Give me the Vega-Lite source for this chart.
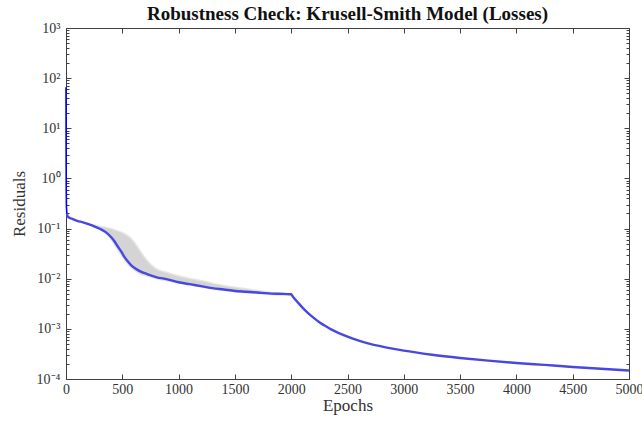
{
  "$schema": "https://vega.github.io/schema/vega-lite/v6.json",
  "width": 563,
  "height": 351,
  "autosize": "none",
  "padding": {"left": 66, "top": 28, "right": 13, "bottom": 42},
  "background": "white",
  "title": {
    "text": "Robustness Check: Krusell-Smith Model (Losses)",
    "font": "Liberation Serif",
    "fontSize": 19,
    "fontWeight": "bold",
    "color": "#111111",
    "offset": 6,
    "dy": 9
  },
  "config": {
    "view": {"stroke": null},
    "font": "Liberation Serif",
    "axis": {
      "grid": false,
      "domainColor": "#404040",
      "domainWidth": 1,
      "tickColor": "#404040",
      "tickWidth": 1,
      "labelFont": "Liberation Serif",
      "labelFontSize": 14,
      "labelColor": "#333333",
      "titleFont": "Liberation Serif",
      "titleFontSize": 17,
      "titleFontWeight": "normal",
      "titleColor": "#333333"
    }
  },
  "datasets": {
    "band": [
      {"epoch": 150, "lo": 0.132, "hi": 0.134, "lo_o": 0.130, "hi_o": 0.137},
      {"epoch": 200, "lo": 0.121, "hi": 0.124, "lo_o": 0.118, "hi_o": 0.128},
      {"epoch": 250, "lo": 0.110, "hi": 0.117, "lo_o": 0.106, "hi_o": 0.122},
      {"epoch": 300, "lo": 0.097, "hi": 0.109, "lo_o": 0.093, "hi_o": 0.115},
      {"epoch": 350, "lo": 0.081, "hi": 0.104, "lo_o": 0.077, "hi_o": 0.110},
      {"epoch": 400, "lo": 0.062, "hi": 0.097, "lo_o": 0.058, "hi_o": 0.103},
      {"epoch": 450, "lo": 0.041, "hi": 0.089, "lo_o": 0.038, "hi_o": 0.095},
      {"epoch": 500, "lo": 0.028, "hi": 0.080, "lo_o": 0.026, "hi_o": 0.086},
      {"epoch": 550, "lo": 0.020, "hi": 0.069, "lo_o": 0.0185, "hi_o": 0.075},
      {"epoch": 600, "lo": 0.0155, "hi": 0.053, "lo_o": 0.0145, "hi_o": 0.059},
      {"epoch": 650, "lo": 0.0132, "hi": 0.036, "lo_o": 0.0123, "hi_o": 0.041},
      {"epoch": 700, "lo": 0.0120, "hi": 0.025, "lo_o": 0.0112, "hi_o": 0.028},
      {"epoch": 750, "lo": 0.0112, "hi": 0.0185, "lo_o": 0.0105, "hi_o": 0.0205},
      {"epoch": 800, "lo": 0.0104, "hi": 0.0152, "lo_o": 0.0098, "hi_o": 0.0166},
      {"epoch": 900, "lo": 0.0093, "hi": 0.0128, "lo_o": 0.0088, "hi_o": 0.0138},
      {"epoch": 1000, "lo": 0.0084, "hi": 0.0110, "lo_o": 0.0079, "hi_o": 0.0118},
      {"epoch": 1100, "lo": 0.0077, "hi": 0.0098, "lo_o": 0.0073, "hi_o": 0.0105},
      {"epoch": 1200, "lo": 0.0070, "hi": 0.0089, "lo_o": 0.0066, "hi_o": 0.0095},
      {"epoch": 1300, "lo": 0.0064, "hi": 0.0079, "lo_o": 0.0061, "hi_o": 0.0084},
      {"epoch": 1400, "lo": 0.0060, "hi": 0.0071, "lo_o": 0.0057, "hi_o": 0.0076},
      {"epoch": 1500, "lo": 0.0056, "hi": 0.0066, "lo_o": 0.0054, "hi_o": 0.0070},
      {"epoch": 1600, "lo": 0.0053, "hi": 0.0061, "lo_o": 0.0051, "hi_o": 0.0065},
      {"epoch": 1700, "lo": 0.0051, "hi": 0.0057, "lo_o": 0.0049, "hi_o": 0.0060},
      {"epoch": 1800, "lo": 0.0049, "hi": 0.0053, "lo_o": 0.0047, "hi_o": 0.0056},
      {"epoch": 1900, "lo": 0.0048, "hi": 0.0050, "lo_o": 0.0046, "hi_o": 0.0052},
      {"epoch": 2000, "lo": 0.0047, "hi": 0.0049, "lo_o": 0.0045, "hi_o": 0.0050}
    ],
    "spike": [
      {"epoch": 0, "loss": 66},
      {"epoch": 1, "loss": 3},
      {"epoch": 2, "loss": 0.6},
      {"epoch": 4, "loss": 0.26},
      {"epoch": 8, "loss": 0.2}
    ],
    "mean": [
      {"epoch": 8, "loss": 0.2},
      {"epoch": 15, "loss": 0.176},
      {"epoch": 30, "loss": 0.165},
      {"epoch": 60, "loss": 0.155},
      {"epoch": 100, "loss": 0.143},
      {"epoch": 150, "loss": 0.133},
      {"epoch": 200, "loss": 0.122},
      {"epoch": 250, "loss": 0.111},
      {"epoch": 300, "loss": 0.099},
      {"epoch": 350, "loss": 0.086},
      {"epoch": 400, "loss": 0.068},
      {"epoch": 430, "loss": 0.056},
      {"epoch": 460, "loss": 0.044},
      {"epoch": 490, "loss": 0.035},
      {"epoch": 520, "loss": 0.027},
      {"epoch": 550, "loss": 0.022},
      {"epoch": 580, "loss": 0.0185},
      {"epoch": 620, "loss": 0.0158},
      {"epoch": 660, "loss": 0.014},
      {"epoch": 720, "loss": 0.0124},
      {"epoch": 800, "loss": 0.0108},
      {"epoch": 900, "loss": 0.0097},
      {"epoch": 1000, "loss": 0.0085},
      {"epoch": 1100, "loss": 0.0078},
      {"epoch": 1200, "loss": 0.0071},
      {"epoch": 1300, "loss": 0.0065},
      {"epoch": 1400, "loss": 0.0061},
      {"epoch": 1500, "loss": 0.0057},
      {"epoch": 1600, "loss": 0.0055},
      {"epoch": 1700, "loss": 0.0053},
      {"epoch": 1800, "loss": 0.0051},
      {"epoch": 1900, "loss": 0.0050},
      {"epoch": 2000, "loss": 0.0049},
      {"epoch": 2010, "loss": 0.00457},
      {"epoch": 2025, "loss": 0.00412},
      {"epoch": 2050, "loss": 0.00355},
      {"epoch": 2100, "loss": 0.00266},
      {"epoch": 2150, "loss": 0.00207},
      {"epoch": 2200, "loss": 0.00166},
      {"epoch": 2250, "loss": 0.00136},
      {"epoch": 2300, "loss": 0.00115},
      {"epoch": 2350, "loss": 0.00099},
      {"epoch": 2400, "loss": 0.00087},
      {"epoch": 2450, "loss": 0.000776},
      {"epoch": 2500, "loss": 0.00070},
      {"epoch": 2600, "loss": 0.000582},
      {"epoch": 2700, "loss": 0.000501},
      {"epoch": 2800, "loss": 0.000447},
      {"epoch": 2900, "loss": 0.000403},
      {"epoch": 3000, "loss": 0.000367},
      {"epoch": 3250, "loss": 0.000305},
      {"epoch": 3500, "loss": 0.000263},
      {"epoch": 3750, "loss": 0.000232},
      {"epoch": 4000, "loss": 0.000209},
      {"epoch": 4250, "loss": 0.000191},
      {"epoch": 4500, "loss": 0.000174},
      {"epoch": 4750, "loss": 0.00016},
      {"epoch": 5000, "loss": 0.000148}
    ]
  },
  "resolve": {"axis": {"x": "independent", "y": "independent"}},
  "layer": [
    {
      "data": {"name": "band"},
      "mark": {"type": "area", "color": "#e6e6e6", "opacity": 1, "interpolate": "monotone"},
      "encoding": {
        "x": {
          "field": "epoch", "type": "quantitative",
          "scale": {"domain": [0, 5000], "nice": false, "zero": false},
          "axis": {
            "orient": "bottom", "title": "Epochs",
            "values": [0, 500, 1000, 1500, 2000, 2500, 3000, 3500, 4000, 4500, 5000],
            "tickSize": -5, "labelPadding": 8, "titlePadding": 1,
            "labelFlush": false, "labelOverlap": false, "format": "d"
          }
        },
        "y": {
          "field": "hi_o", "type": "quantitative",
          "scale": {"type": "log", "domain": [0.0001, 1000], "nice": false},
          "axis": {
            "orient": "left", "title": "Residuals",
            "values": [0.0001, 0.001, 0.01, 0.1, 1, 10, 100, 1000],
            "tickSize": -5, "labelPadding": 11, "titlePadding": 8,
            "labelFlush": false, "labelOverlap": false,
            "labelExpr": "['10⁻⁴','10⁻³','10⁻²','10⁻¹','10⁰','10¹','10²','10³'][round(log(datum.value)/LN10)+4]"
          }
        },
        "y2": {"field": "lo_o"}
      }
    },
    {
      "data": {"name": "band"},
      "mark": {"type": "area", "color": "#d4d4d4", "opacity": 1, "interpolate": "monotone"},
      "encoding": {
        "x": {
          "field": "epoch", "type": "quantitative",
          "axis": {
            "orient": "top", "title": null, "labels": false,
            "values": [0, 500, 1000, 1500, 2000, 2500, 3000, 3500, 4000, 4500, 5000],
            "tickSize": -5
          }
        },
        "y": {
          "field": "hi", "type": "quantitative",
          "axis": {
            "orient": "left", "title": null, "labels": false,
            "values": [0.0002, 0.0003, 0.0004, 0.0005, 0.0006, 0.0007, 0.0008, 0.0009,
                       0.002, 0.003, 0.004, 0.005, 0.006, 0.007, 0.008, 0.009,
                       0.02, 0.03, 0.04, 0.05, 0.06, 0.07, 0.08, 0.09,
                       0.2, 0.3, 0.4, 0.5, 0.6, 0.7, 0.8, 0.9,
                       2, 3, 4, 5, 6, 7, 8, 9,
                       20, 30, 40, 50, 60, 70, 80, 90,
                       200, 300, 400, 500, 600, 700, 800, 900],
            "tickSize": -3, "domain": false
          }
        },
        "y2": {"field": "lo"}
      }
    },
    {
      "data": {"name": "spike"},
      "mark": {"type": "line", "color": "#0000ff", "strokeWidth": 1.6},
      "encoding": {
        "x": {"field": "epoch", "type": "quantitative", "axis": null},
        "y": {
          "field": "loss", "type": "quantitative",
          "axis": {
            "orient": "right", "title": null, "labels": false,
            "values": [0.0001, 0.001, 0.01, 0.1, 1, 10, 100, 1000],
            "tickSize": -5
          }
        }
      }
    },
    {
      "data": {"name": "mean"},
      "mark": {"type": "line", "color": "#4848e0", "strokeWidth": 2.4, "interpolate": "monotone"},
      "encoding": {
        "x": {"field": "epoch", "type": "quantitative", "axis": null},
        "y": {
          "field": "loss", "type": "quantitative",
          "axis": {
            "orient": "right", "title": null, "labels": false, "domain": false,
            "values": [0.0002, 0.0003, 0.0004, 0.0005, 0.0006, 0.0007, 0.0008, 0.0009,
                       0.002, 0.003, 0.004, 0.005, 0.006, 0.007, 0.008, 0.009,
                       0.02, 0.03, 0.04, 0.05, 0.06, 0.07, 0.08, 0.09,
                       0.2, 0.3, 0.4, 0.5, 0.6, 0.7, 0.8, 0.9,
                       2, 3, 4, 5, 6, 7, 8, 9,
                       20, 30, 40, 50, 60, 70, 80, 90,
                       200, 300, 400, 500, 600, 700, 800, 900],
            "tickSize": -3
          }
        }
      }
    }
  ]
}
